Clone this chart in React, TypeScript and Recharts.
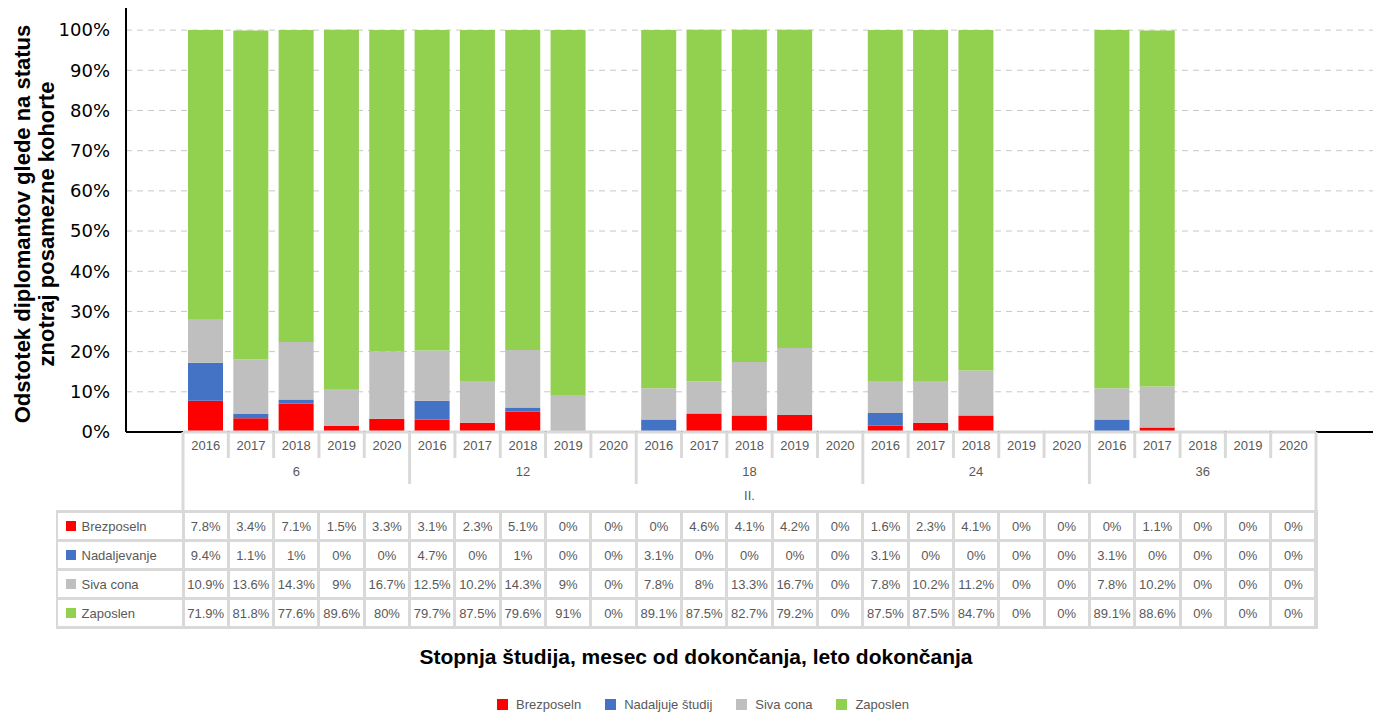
import React from "react"
import { BarChart, Bar, XAxis, YAxis, CartesianGrid } from "recharts"

const months = ["6", "12", "18", "24", "36"]
const years = ["2016", "2017", "2018", "2019", "2020"]
const levelLabel = "II."

const brezposeln = [7.8, 3.4, 7.1, 1.5, 3.3, 3.1, 2.3, 5.1, 0, 0, 0, 4.6, 4.1, 4.2, 0, 1.6, 2.3, 4.1, 0, 0, 0, 1.1, 0, 0, 0]
const nadaljevanje = [9.4, 1.1, 1, 0, 0, 4.7, 0, 1, 0, 0, 3.1, 0, 0, 0, 0, 3.1, 0, 0, 0, 0, 3.1, 0, 0, 0, 0]
const sivaCona = [10.9, 13.6, 14.3, 9, 16.7, 12.5, 10.2, 14.3, 9, 0, 7.8, 8, 13.3, 16.7, 0, 7.8, 10.2, 11.2, 0, 0, 7.8, 10.2, 0, 0, 0]
const zaposlen = [71.9, 81.8, 77.6, 89.6, 80, 79.7, 87.5, 79.6, 91, 0, 89.1, 87.5, 82.7, 79.2, 0, 87.5, 87.5, 84.7, 0, 0, 89.1, 88.6, 0, 0, 0]

const seriesKeys = ["brezposeln", "nadaljevanje", "siva", "zaposlen"]
const seriesValues = [brezposeln, nadaljevanje, sivaCona, zaposlen]
const tableNames = ["Brezposeln", "Nadaljevanje", "Siva cona", "Zaposlen"]
const legendNames = ["Brezposeln", "Nadaljuje študij", "Siva cona", "Zaposlen"]
const colors = ["#ff0000", "#4472c4", "#bfbfbf", "#92d050"]
const yTicks = [0, 10, 20, 30, 40, 50, 60, 70, 80, 90, 100]

const data = months.flatMap((m, gi) =>
  years.map((y, yi) => {
    const i = gi * years.length + yi
    const row: any = { key: `${m}-${y}` }
    seriesKeys.forEach((k, s) => (row[k] = seriesValues[s][i]))
    return row
  })
)

// layout
const W = 1382
const H = 718
const PLOT_LEFT = 126
const PLOT_RIGHT = 1373
const PLOT_BOTTOM = 432
const CAT_LEFT = 183
const CAT_RIGHT = 1316
const BAND = (CAT_RIGHT - CAT_LEFT) / data.length
const TABLE_TOP = 511.5
const ROW_H = 29
const GRID = "#d9d9d9"
const TEXT = "#595959"
const SANS = "'Liberation Sans', Arial, sans-serif"

const YearTick = (props: any) => {
  const { x, payload, index } = props
  const left = x - BAND / 2
  const [month, year] = String(payload.value).split("-")
  const n = years.length
  let sepBottom = 458
  if (index === 0) sepBottom = TABLE_TOP
  else if (index % n === 0) sepBottom = 484
  return (
    <g>
      <line x1={left} x2={left + BAND} y1={PLOT_BOTTOM} y2={PLOT_BOTTOM} stroke={GRID} strokeWidth={3} />
      <line x1={left} x2={left} y1={PLOT_BOTTOM} y2={sepBottom} stroke={GRID} strokeWidth={3} />
      {index === data.length - 1 && (
        <line x1={left + BAND} x2={left + BAND} y1={PLOT_BOTTOM} y2={TABLE_TOP} stroke={GRID} strokeWidth={3} />
      )}
      <text x={x} y={450} textAnchor="middle" fontSize={13} fill={TEXT} fontFamily={SANS}>
        {year}
      </text>
      {index % n === 2 && (
        <text x={x} y={476} textAnchor="middle" fontSize={13} fill={TEXT} fontFamily={SANS}>
          {month}
        </text>
      )}
      {index === Math.floor(data.length / 2) && (
        <text x={x} y={500} textAnchor="middle" fontSize={13} fill={TEXT} fontFamily={SANS}>
          {levelLabel}
        </text>
      )}
    </g>
  )
}

const fmt = (v: number) => `${v}%`

export default function App() {
  return (
    <div style={{ position: "absolute", left: 0, top: 0, width: W, height: H, background: "#fff", overflow: "hidden" }}>
      <BarChart
        width={W}
        height={H}
        data={data}
        margin={{ top: 8, right: W - PLOT_RIGHT, left: 0, bottom: H - PLOT_BOTTOM - 30 }}
      >
        <CartesianGrid vertical={false} stroke="#c8c8c8" strokeDasharray="6 5" horizontalValues={yTicks} />
        <XAxis
          dataKey="key"
          interval={0}
          height={30}
          padding={{ left: CAT_LEFT - PLOT_LEFT, right: PLOT_RIGHT - CAT_RIGHT }}
          axisLine={{ stroke: "#000", strokeWidth: 2 }}
          tickLine={false}
          tick={<YearTick />}
        />
        <YAxis
          width={PLOT_LEFT}
          domain={[0, 105.5]}
          ticks={yTicks}
          allowDataOverflow
          tickFormatter={fmt}
          axisLine={{ stroke: "#000", strokeWidth: 2 }}
          tickLine={false}
          tickMargin={10}
          tick={{ fontSize: 18, fill: "#000", fontFamily: "'DejaVu Sans', sans-serif" }}
        />
        {seriesKeys.map((k, s) => (
          <Bar key={k} dataKey={k} stackId="a" fill={colors[s]} barSize={35} isAnimationActive={false} />
        ))}
      </BarChart>

      {/* y axis title */}
      <svg style={{ position: "absolute", left: 0, top: 0 }} width={80} height={450}>
        <g transform="translate(34, 224) rotate(-90)" fontFamily={SANS} fontWeight="bold" fontSize={22} fill="#000">
          <text x={0} y={-4} textAnchor="middle">Odstotek diplomantov glede na status</text>
          <text x={0} y={20} textAnchor="middle">znotraj posamezne kohorte</text>
        </g>
      </svg>

      {/* data table */}
      <div
        style={{
          position: "absolute",
          left: 56,
          top: TABLE_TOP - 1.5,
          width: CAT_RIGHT - 56 + 1.5,
          height: ROW_H * tableNames.length + 3,
          background: GRID,
        }}
      />
      {tableNames.map((name, r) => (
        <React.Fragment key={name}>
          <div
            style={{
              position: "absolute",
              left: 57.5,
              top: TABLE_TOP + r * ROW_H + 1.5,
              width: CAT_LEFT - 57.5 - 1.5,
              height: ROW_H - 3,
              background: "#fff",
              display: "flex",
              alignItems: "center",
              fontFamily: SANS,
              fontSize: 13,
              color: TEXT,
            }}
          >
            <span style={{ display: "inline-block", width: 10, height: 10, background: colors[r], marginLeft: 8, marginRight: 6 }} />
            {name}
          </div>
          {seriesValues[r].map((v, i) => (
            <div
              key={i}
              style={{
                position: "absolute",
                left: CAT_LEFT + i * BAND + 1.5,
                top: TABLE_TOP + r * ROW_H + 1.5,
                width: BAND - 3,
                height: ROW_H - 3,
                background: "#fff",
                display: "flex",
                alignItems: "center",
                justifyContent: "center",
                fontFamily: SANS,
                fontSize: 13,
                color: TEXT,
                whiteSpace: "nowrap",
              }}
            >
              {fmt(v)}
            </div>
          ))}
        </React.Fragment>
      ))}

      {/* x axis title */}
      <div
        style={{
          position: "absolute",
          left: 296,
          width: 800,
          top: 645,
          textAlign: "center",
          fontFamily: SANS,
          fontWeight: "bold",
          fontSize: 21,
          color: "#000",
        }}
      >
        Stopnja študija, mesec od dokončanja, leto dokončanja
      </div>

      {/* legend */}
      <div
        style={{
          position: "absolute",
          left: 303,
          width: 800,
          top: 697,
          display: "flex",
          justifyContent: "center",
          gap: 24,
          fontFamily: SANS,
          fontSize: 13,
          color: TEXT,
        }}
      >
        {legendNames.map((n, s) => (
          <div key={n} style={{ display: "flex", alignItems: "center" }}>
            <span style={{ display: "inline-block", width: 11, height: 11, background: colors[s], marginRight: 8 }} />
            {n}
          </div>
        ))}
      </div>
    </div>
  )
}
